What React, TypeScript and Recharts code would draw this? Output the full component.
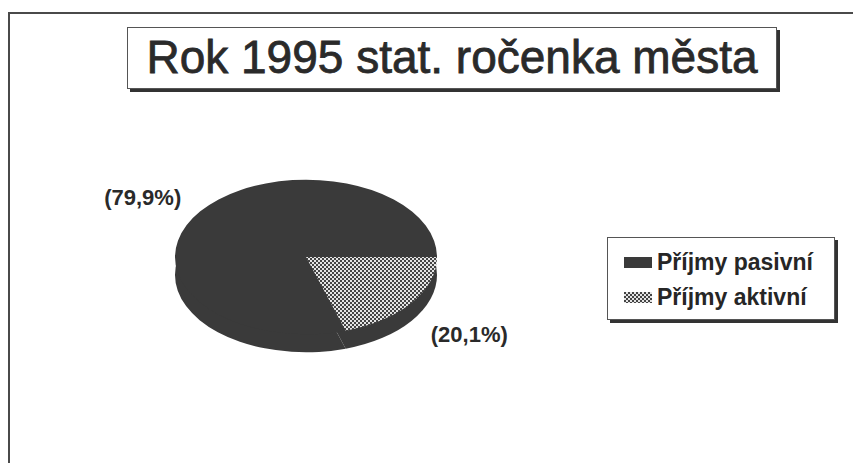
import { PieChart, Pie, Cell, Legend } from "recharts";

const categories = ["Příjmy pasivní", "Příjmy aktivní"];
const shares = [79.9, 20.1];
const shareLabels = ["(79,9%)", "(20,1%)"];
const titleText = "Rok 1995 stat. ročenka města";

const topFills = ["#3a3a3a", "url(#checker)"];
const sideFill = "#3a3a3a";

const data = categories.map((name, i) => ({
  name,
  value: shares[i],
  text: shareLabels[i],
}));

const FONT = "'Liberation Sans', Arial, sans-serif";
const SQUASH = 0.59; // vertical flattening of the pie
const DEPTH = 18; // thickness of the 3d disc
const RAD = Math.PI / 180;

function slicePath(cx: number, cy: number, rx: number, ry: number, a0: number, a1: number) {
  const x0 = cx + rx * Math.cos(a0 * RAD);
  const y0 = cy - ry * Math.sin(a0 * RAD);
  const x1 = cx + rx * Math.cos(a1 * RAD);
  const y1 = cy - ry * Math.sin(a1 * RAD);
  const large = Math.abs(a1 - a0) > 180 ? 1 : 0;
  const sweep = a1 > a0 ? 0 : 1;
  return `M${cx},${cy} L${x0},${y0} A${rx},${ry} 0 ${large} ${sweep} ${x1},${y1} Z`;
}

function EllipseSlice(props: any) {
  const { cx, cy, outerRadius, startAngle, endAngle, fill } = props;
  return (
    <path
      d={slicePath(cx, cy, outerRadius, outerRadius * SQUASH, startAngle, endAngle)}
      fill={fill}
      stroke="none"
    />
  );
}

function SliceLabel(props: any) {
  const { cx, cy, outerRadius, midAngle, index } = props;
  const c = Math.cos(midAngle * RAD);
  const s = Math.sin(midAngle * RAD);
  const x = cx + outerRadius * 1.18 * c;
  const y = cy - outerRadius * SQUASH * 1.3 * s + (s < 0 ? DEPTH : 0);
  return (
    <text
      x={x}
      y={y}
      textAnchor={c < 0 ? "end" : "start"}
      dominantBaseline="central"
      fontFamily={FONT}
      fontSize={22}
      fontWeight="bold"
      fill="#2a2a2a"
    >
      {shareLabels[index]}
    </text>
  );
}

function Swatch({ i }: { i: number }) {
  return (
    <svg width={28} height={11} style={{ display: "block", marginRight: 5 }}>
      <defs>
        <pattern id={`lg-chk-${i}`} width={4} height={4} patternUnits="userSpaceOnUse">
          <rect width={4} height={4} fill="#e4e4e4" />
          <rect width={2} height={2} fill="#444" />
          <rect x={2} y={2} width={2} height={2} fill="#444" />
        </pattern>
      </defs>
      <rect width={28} height={11} fill={i === 0 ? topFills[0] : `url(#lg-chk-${i})`} />
    </svg>
  );
}

function LegendBox() {
  return (
    <div
      style={{
        width: 228,
        height: 83,
        boxSizing: "border-box",
        border: "1.5px solid #555",
        boxShadow: "3px 3px 0 #333",
        background: "#fff",
        paddingLeft: 16,
        paddingTop: 7,
        fontFamily: FONT,
        fontWeight: "bold",
        fontSize: 23,
        color: "#262626",
      }}
    >
      {categories.map((c, i) => (
        <div key={c} style={{ display: "flex", alignItems: "center", height: 35 }}>
          <Swatch i={i} />
          <span>{c}</span>
        </div>
      ))}
    </div>
  );
}

export default function App() {
  return (
    <div
      style={{
        position: "fixed",
        left: 0,
        top: 0,
        width: 853,
        height: 463,
        background: "#fff",
        overflow: "hidden",
      }}
    >
      {/* scanned page frame, only top and left edges show */}
      <div
        style={{
          position: "absolute",
          left: 8,
          top: 12,
          width: 900,
          height: 500,
          borderTop: "2px solid #4a4a4a",
          borderLeft: "2px solid #4a4a4a",
        }}
      />
      <div
        style={{
          position: "absolute",
          left: 127,
          top: 27,
          width: 650,
          height: 62,
          boxSizing: "border-box",
          border: "1.5px solid #555",
          boxShadow: "3px 3px 0 #333",
          background: "#fff",
          fontFamily: FONT,
          fontSize: 46,
          color: "#2a2a2a",
          WebkitTextStroke: "0.8px #2a2a2a",
          textAlign: "center",
          lineHeight: "58px",
          whiteSpace: "nowrap",
        }}
      >
        {titleText}
      </div>
      <div style={{ position: "absolute", left: 0, top: 0 }}>
        <PieChart width={853} height={463} margin={{ top: 0, right: 0, bottom: 0, left: 0 }}>
          <defs>
            <pattern id="checker" width={4} height={4} patternUnits="userSpaceOnUse">
              <rect width={4} height={4} fill="#e4e4e4" />
              <rect width={2} height={2} fill="#444" />
              <rect x={2} y={2} width={2} height={2} fill="#444" />
            </pattern>
          </defs>
          <Pie
            data={data}
            dataKey="value"
            nameKey="name"
            cx={306}
            cy={257 + DEPTH}
            outerRadius={131}
            startAngle={0}
            endAngle={360}
            shape={EllipseSlice}
            stroke="none"
            legendType="none"
            isAnimationActive={false}
          >
            {data.map((d) => (
              <Cell key={d.name} fill={sideFill} />
            ))}
          </Pie>
          <Pie
            data={data}
            dataKey="value"
            nameKey="name"
            cx={306}
            cy={257}
            outerRadius={131}
            startAngle={0}
            endAngle={360}
            shape={EllipseSlice}
            stroke="none"
            label={SliceLabel}
            labelLine={false}
            isAnimationActive={false}
          >
            {data.map((d, i) => (
              <Cell key={d.name} fill={topFills[i]} />
            ))}
          </Pie>
          <Legend
            layout="vertical"
            align="right"
            verticalAlign="middle"
            content={<LegendBox />}
            wrapperStyle={{ left: 607, top: 237, width: 228 }}
          />
        </PieChart>
      </div>
    </div>
  );
}
